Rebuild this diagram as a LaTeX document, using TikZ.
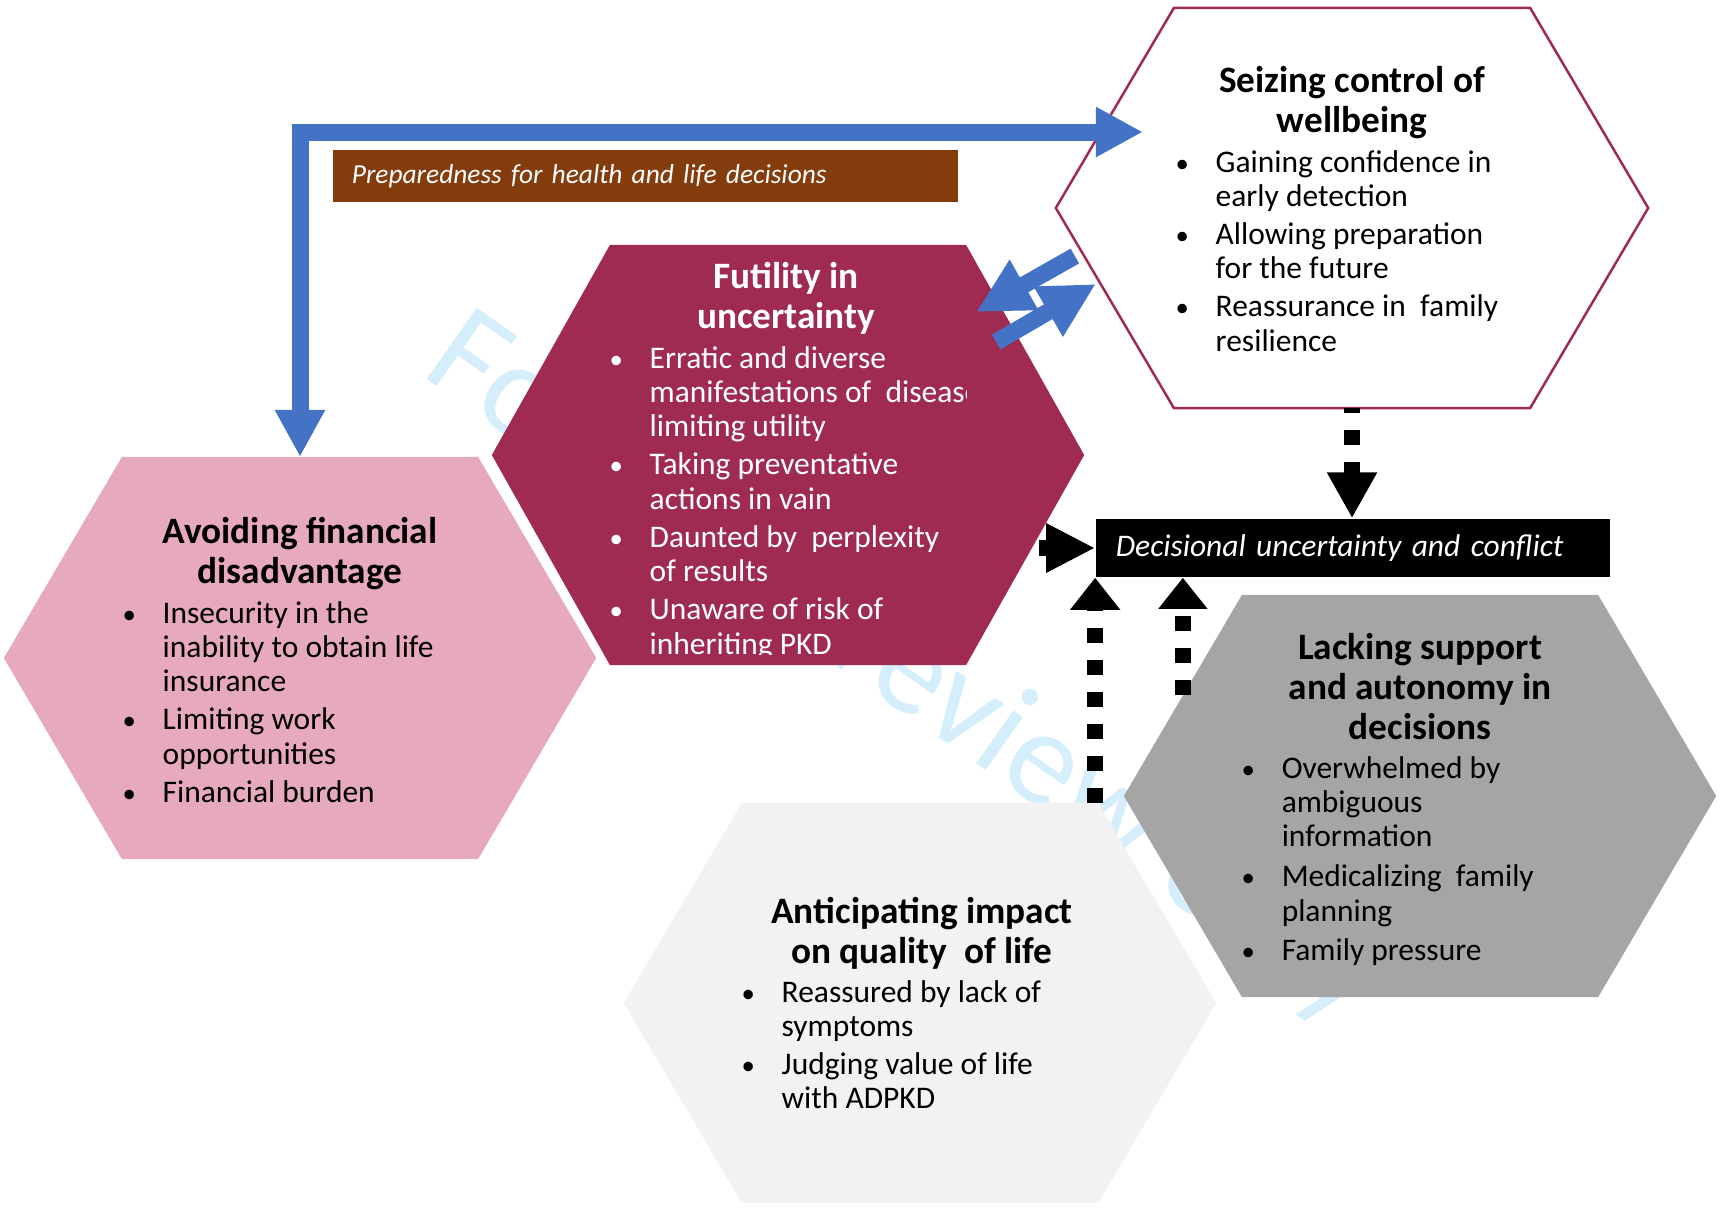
\documentclass[tikz,border=0pt]{standalone}
\usepackage{fontspec}
\setmainfont{Carlito}
\usetikzlibrary{arrows.meta,positioning,calc,backgrounds}

\definecolor{crimson}{HTML}{A02B52}
\definecolor{rosepink}{HTML}{E7A9BC}
\definecolor{slategrey}{HTML}{A5A5A5}
\definecolor{palegrey}{HTML}{F2F2F2}
\definecolor{linkblue}{HTML}{4472C4}
\definecolor{rust}{HTML}{843C0C}
\definecolor{wmblue}{HTML}{D5EEFB}

% hexagon drawn around an empty box node
\newcommand{\hexpath}[1]{(#1.west) -- ([xshift=1.18cm]#1.north west) -- ([xshift=-1.18cm]#1.north east) -- (#1.east) -- ([xshift=-1.18cm]#1.south east) -- ([xshift=1.18cm]#1.south west) -- cycle}
\newcommand{\stack}[1]{\begin{tabular}[t]{@{}c@{}}#1\end{tabular}}
\newcommand{\blist}[1]{\begin{tabular}[t]{@{}l@{}l@{}}#1\end{tabular}}
\newcommand{\bl}{\makebox[0.4cm][l]{\scalebox{0.85}{\textbullet}}}

\begin{document}
\begin{tikzpicture}[x=0.01cm, y=-0.01cm,
    hexbox/.style={rectangle, minimum width=5.92cm, inner sep=0, outer sep=0},
    htitle/.style={anchor=base, inner sep=0, font=\fontsize{10.6pt}{11.4pt}\selectfont\bfseries},
    hlist/.style={anchor=base west, inner sep=0, font=\fontsize{8.95pt}{9.8pt}\selectfont},
    tagbox/.style={rectangle, inner ysep=0, align=left, text=white, font=\fontsize{7.8pt}{9pt}\selectfont\itshape},
    wmark/.style={text=wmblue, inner sep=0, font=\fontsize{38.7pt}{40pt}\selectfont},
    linkarrow/.style={draw=linkblue, line width=0.17cm, {Triangle[length=0.47cm,width=0.47cm]}-{Triangle[length=0.47cm,width=0.47cm]}},
    blockarrow/.style={draw=linkblue, line width=0.17cm, -{Triangle[length=0.55cm,width=0.54cm]}},
    dasharrow/.style={draw=black, line width=0.155cm, dash pattern=on 0.15cm off 0.17cm, -{Triangle[length=0.46cm,width=0.47cm]}}]
    \useasboundingbox (0,0) rectangle (1722,1208);

    % hexagon frames
    \node [hexbox, minimum height=4cm] (seize) at (1352,208) {};
    \node [hexbox, minimum height=4.2cm] (futil) at (788,455) {};
    \node [hexbox, minimum height=4.02cm] (avoid) at (300,658) {};
    \node [hexbox, minimum height=4.02cm] (lack) at (1420,796) {};
    \node [hexbox, minimum height=4cm] (antic) at (920,1003) {};

    \begin{scope}[on background layer]
        \node [wmark, rotate=-35, anchor=base west] (wm) at (419,374) {For peer review only};
        \fill [rosepink] \hexpath{avoid};
        \fill [crimson] \hexpath{futil};
        \fill [palegrey] \hexpath{antic};
        \fill [slategrey] \hexpath{lack};
        \filldraw [fill=white, draw=crimson, line width=0.025cm] \hexpath{seize};
    \end{scope}

    % Seizing control
    \node [htitle] (seizeT) at ([shift={(0,-116)}]seize.center) {\stack{Seizing control of\\wellbeing}};
    \node [hlist] (seizeL) at ([shift={(-177,-36)}]seize.center) {\blist{
        \bl & Gaining confidence in\\ & early detection\\[1pt]
        \bl & Allowing preparation\\ & for the future\\[1pt]
        \bl & Reassurance in\ \ family\\ & resilience}};

    % Futility
    \node [htitle, text=white] (futilT) at ([shift={(-2,-167)}]futil.center) {\stack{Futility in\\uncertainty}};
    \begin{scope}
        \clip ([xshift=1.18cm]futil.north west) rectangle ([shift={(-118,-11)}]futil.south east);
        \node [hlist, text=white] (futilL) at ([shift={(-179,-87)}]futil.center) {\blist{
            \bl & Erratic and diverse\\ & manifestations of\ \ disease\\ & limiting utility\\[1pt]
            \bl & Taking preventative\\ & actions in vain\\[1pt]
            \bl & Daunted by\ \ perplexity\\ & of results\\[1pt]
            \bl & Unaware of risk of\\ & inheriting PKD}};
    \end{scope}

    % Avoiding
    \node [htitle] (avoidT) at ([shift={(0,-115)}]avoid.center) {\stack{Avoiding financial\\disadvantage}};
    \node [hlist] (avoidL) at ([shift={(-178,-35)}]avoid.center) {\blist{
        \bl & Insecurity in the\\ & inability to obtain life\\ & insurance\\[1pt]
        \bl & Limiting work\\ & opportunities\\[1pt]
        \bl & Financial burden}};

    % Lacking support
    \node [htitle] (lackT) at ([shift={(0,-137)}]lack.center) {\stack{Lacking support\\and autonomy in\\decisions}};
    \node [hlist] (lackL) at ([shift={(-179,-18)}]lack.center) {\blist{
        \bl & Overwhelmed by\\ & ambiguous\\ & information\\[1.5pt]
        \bl & Medicalizing\ \ family\\ & planning\\[1.5pt]
        \bl & Family pressure}};

    % Anticipating
    \node [htitle] (anticT) at ([shift={(2,-80)}]antic.center) {\stack{Anticipating impact\\on quality\ \ of life}};
    \node [hlist] (anticL) at ([shift={(-179,-1)}]antic.center) {\blist{
        \bl & Reassured by lack of\\ & symptoms\\[1pt]
        \bl & Judging value of life\\ & with ADPKD}};

    % labels in boxes
    \node [tagbox, fill=rust, minimum width=6.25cm, minimum height=0.52cm, text width=5.87cm, inner xsep=0.19cm] (prep) at (645.5,176) {Preparedness for health and life decisions};
    \node [tagbox, fill=black, minimum width=5.14cm, minimum height=0.58cm, text width=4.74cm, inner xsep=0.2cm, font=\fontsize{8.95pt}{10pt}\selectfont\itshape] (decis) at (1353,548) {Decisional uncertainty and conflict};

    % blue links
    \draw [linkarrow] (avoid.north) |- ([shift={(87,-76)}]seize.west);
    \draw [blockarrow] ([shift={(19,48)}]seize.west) -- ([shift={(-108,-143)}]futil.east);
    \draw [blockarrow] ([shift={(-88,-113)}]futil.east) -- ([shift={(40,76)}]seize.west);

    % dashed links into the decision box
    \coordinate (lackedge) at ($(lack.west)!0.5!([xshift=1.18cm]lack.north west)$);
    \draw [dasharrow, dash phase=0.1cm] (seize.south) -- (seize.south |- decis.north);
    \draw [dasharrow, -{Triangle[length=0.49cm,width=0.46cm]}] ([xshift=-0.56cm]decis.west) -- (decis.west);
    \draw [dasharrow, -{Triangle[length=0.32cm,width=0.48cm]}] (decis.south west |- antic.north) -- (decis.south west);
    \draw [dasharrow, -{Triangle[length=0.31cm,width=0.47cm]}] (lackedge) -- (lackedge |- decis.south);
\end{tikzpicture}
\end{document}
